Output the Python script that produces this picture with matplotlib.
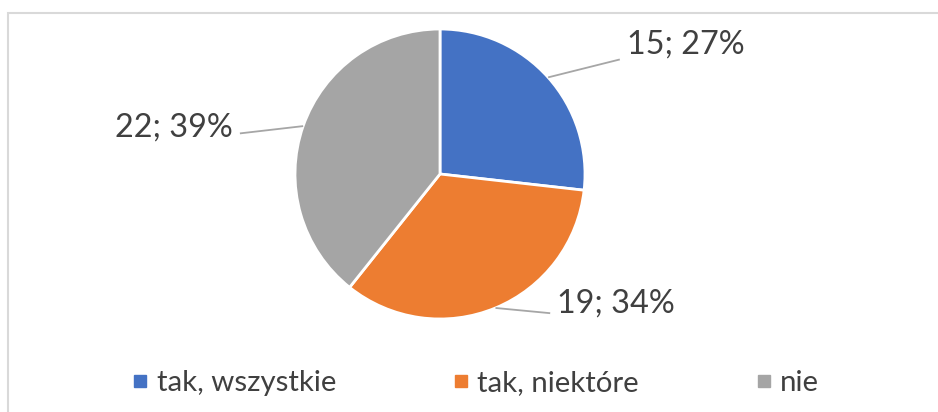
import numpy as np
import matplotlib.pyplot as plt
from matplotlib.patches import Rectangle
from matplotlib.lines import Line2D

# data
categories = ["tak, wszystkie", "tak, niektóre", "nie"]
counts = [15, 19, 22]
colors = ["#4472C4", "#ED7D31", "#A5A5A5"]

# label text anchor (in pie-radius units) and leader end point
label_pos = [(1.29, 0.89), (0.81, -0.89), (-1.43, 0.32)]
leader_end = [(1.24, 0.79), (0.76, -0.96), (-1.38, 0.28)]
label_ha = ["left", "left", "right"]

plt.rcParams["font.family"] = ["Lato", "DejaVu Sans"]
TXT = "#404040"

W, H = 938, 412
fig = plt.figure(figsize=(W / 100, H / 100), dpi=100)
fig.patch.set_facecolor("white")

# pie centre / radius in pixels
cx, cy, R = 440, 174, 145
ax = fig.add_axes([0, 0, 1, 1])
wedges, _ = ax.pie(counts, colors=colors, startangle=90, counterclock=False,
                   radius=1, center=(0, 0),
                   wedgeprops=dict(edgecolor="white", linewidth=2))
ax.set_xlim(-cx / R, (W - cx) / R)
ax.set_ylim(-(H - cy) / R, cy / R)
ax.set_aspect("equal")
ax.axis("off")

total = sum(counts)
for i, w in enumerate(wedges):
    mid = np.deg2rad((w.theta1 + w.theta2) / 2)
    ex, ey = np.cos(mid), np.sin(mid)
    lx, ly = leader_end[i]
    ax.plot([ex, lx], [ey, ly], color="#A6A6A6", lw=1.3, solid_capstyle="butt")
    pct = round(counts[i] / total * 100)
    tx, ty = label_pos[i]
    ax.text(tx, ty, f"{counts[i]}; {pct}%", ha=label_ha[i], va="center",
            fontsize=23.3, color=TXT)

# legend
handles = [Line2D([], [], marker="s", linestyle="none", markersize=8.5,
                  markerfacecolor=c, markeredgecolor=c) for c in colors]
fig.legend(handles, categories, loc="center left", bbox_to_anchor=(133 / W, 1 - 383 / H),
           ncol=3, frameon=False, fontsize=21.2, labelcolor=TXT,
           handlelength=0.5, handletextpad=0.3, columnspacing=4.0,
           borderaxespad=0, borderpad=0)

# outer border (cropped on right / bottom)
fig.patches.append(Rectangle((8 / W, -0.2), 1.2, 1.2 - 13 / H, transform=fig.transFigure,
                             fill=False, edgecolor="#D9D9D9", lw=1.5))

fig.savefig("out.png", dpi=100)
